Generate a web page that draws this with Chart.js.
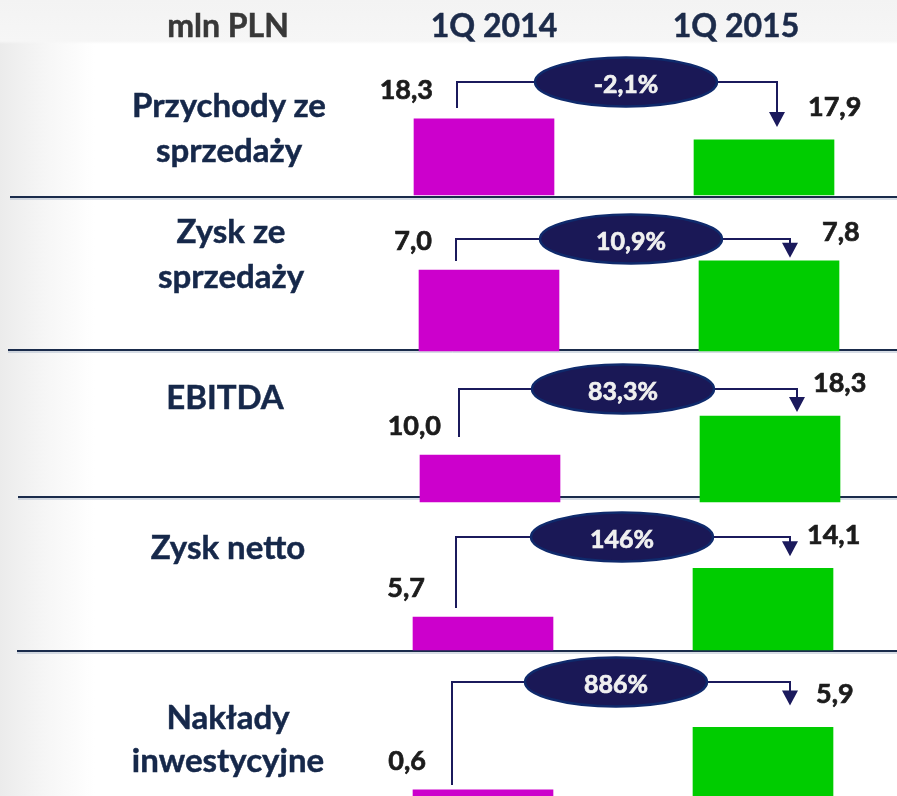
<!DOCTYPE html>
<html>
<head>
  <meta charset="utf-8">
  <title>Wyniki 1Q 2015 vs 1Q 2014</title>
  <style>
    html, body { margin: 0; padding: 0; overflow: hidden; }
    body {
      width: 897px; height: 796px; position: relative;
      background:
        linear-gradient(to bottom, #f3f3f3 0px, #f6f6f6 41px, rgba(255,255,255,0) 44px),
        linear-gradient(to right, #ebebeb 0px, #f6f6f6 45px, #ffffff 95px);
      font-family: Lato, "Open Sans", sans-serif;
      font-weight: 700;
    }
    #chart { position: absolute; left: 0; top: 0; }
    .txt {
      position: absolute; white-space: nowrap; transform: translateX(-50%); line-height: 1;
      -webkit-text-stroke: 0.5px currentColor;
    }
  </style>
</head>
<body>
  <canvas id="chart" width="897" height="796"></canvas>
  <script src="https://cdn.jsdelivr.net/npm/chart.js"></script>
  <script>
    // dane (mln PLN)
    const periods = ['1Q 2014', '1Q 2015'];
    const rowNames = [
      ['Przychody ze', 'sprzedaży'],
      ['Zysk ze', 'sprzedaży'],
      ['EBITDA'],
      ['Zysk netto'],
      ['Nakłady', 'inwestycyjne']
    ];
    const values2014 = [18.3, 7.0, 10.0, 5.7, 0.6];
    const values2015 = [17.9, 7.8, 18.3, 14.1, 5.9];
    const changes = ['-2,1%', '10,9%', '83,3%', '146%', '886%'];

    const MAGENTA = '#cc00cc';
    const GREEN = '#00cc00';
    const NAVY = '#1b1a5c';

    // uklad kazdego wiersza (piksele) - osobna os y na wiersz
    const rowLayout = [
      { base: 195, k: 52.5, from: 16.85, x0: 484, sep: 197, sepX: 10, linkY: 82, linkL: 457, linkR: 777, ellX: 626, gapL: 11, gapR: 13, lblL: 433, lblR: 808, dyR: 24, nameX: 229, nameY: [117, 162] },
      { base: 351, k: 11.57, from: 0, x0: 489, sep: 350, sepX: 8, linkY: 239, linkL: 456, linkR: 790, ellX: 631, gapL: 9, gapR: 3, lblL: 432, lblR: 822, dyR: 20, nameX: 231, nameY: [243, 288] },
      { base: 502, k: 4.7, from: 0, x0: 490, sep: 497, sepX: 18, linkY: 389, linkL: 459, linkR: 797, ellX: 623, gapL: 18, gapR: 4, lblL: 441, lblR: 813, dyR: 24, nameX: 225, nameY: [409] },
      { base: 650, k: 5.79, from: 0, x0: 483, sep: 651, sepX: 17, linkY: 537, linkL: 456, linkR: 790, ellX: 622, gapL: 9, gapR: 12, lblL: 425, lblR: 807, dyR: 24, nameX: 228, nameY: [559] },
      { base: 797, k: 11.8, from: 0, x0: 483, sep: null, sepX: 0, linkY: 682, linkL: 452, linkR: 790, ellX: 616, gapL: 5, gapR: 22, lblL: 426, lblR: 816, dyR: 24, nameX: 228, nameY: [729, 772] }
    ];

    const W = 897, H = 796, STEP = 280;
    const fmt = v => v.toFixed(1).replace('.', ',');

    // naglowki i nazwy wierszy jako tekst HTML
    function addText(str, cx, baseline, size, color) {
      const d = document.createElement('div');
      d.className = 'txt';
      d.textContent = str;
      d.style.left = cx + 'px';
      d.style.top = (baseline - 0.888 * size) + 'px';
      d.style.fontSize = size + 'px';
      d.style.color = color;
      document.body.appendChild(d);
    }
    addText('mln PLN', 228, 37, 32, '#383838');
    addText(periods[0], 494, 37, 32, '#1c2b4a');
    addText(periods[1], 736, 37, 32, '#1c2b4a');
    rowNames.forEach((lines, r) => {
      lines.forEach((s, j) => addText(s, rowLayout[r].nameX, rowLayout[r].nameY[j], 33, '#16284a'));
    });

    const scales = {};
    const datasets = [];
    rowLayout.forEach((L, r) => {
      scales['x' + r] = { type: 'linear', display: false, offset: false, min: -L.x0 / STEP, max: (W - L.x0) / STEP };
      scales['y' + r] = { type: 'linear', display: false, min: L.from - (H - L.base) / L.k, max: L.from + L.base / L.k };
      datasets.push({
        label: rowNames[r].join(' '),
        data: [{ x: 0, y: values2014[r] }, { x: 1, y: values2015[r] }],
        backgroundColor: [MAGENTA, GREEN],
        barThickness: 140,
        base: L.from,
        grouped: false,
        xAxisID: 'x' + r,
        yAxisID: 'y' + r
      });
    });

    function boldText(ctx, str, x, y) {
      ctx.fillText(str, x, y);
      ctx.lineWidth = 0.7;
      ctx.strokeStyle = ctx.fillStyle;
      ctx.strokeText(str, x, y);
    }

    const decor = {
      id: 'decor',
      beforeDatasetsDraw(chart) {
        const ctx = chart.ctx;
        ctx.save();
        rowLayout.forEach(L => {
          if (L.sep === null) return;
          ctx.strokeStyle = '#aebacb';
          ctx.lineWidth = 1;
          ctx.beginPath(); ctx.moveTo(L.sepX, L.sep + 2); ctx.lineTo(W, L.sep + 2); ctx.stroke();
          ctx.strokeStyle = '#1a2b4b';
          ctx.lineWidth = 2;
          ctx.beginPath(); ctx.moveTo(L.sepX, L.sep); ctx.lineTo(W, L.sep); ctx.stroke();
        });
        ctx.restore();
      },
      afterDatasetsDraw(chart) {
        const ctx = chart.ctx;
        ctx.save();
        rowLayout.forEach((L, r) => {
          const bars = chart.getDatasetMeta(r).data;
          const topA = bars[0].y, topB = bars[1].y;
          const tipY = topB - L.gapR;

          // laczenie ze strzalka
          ctx.strokeStyle = NAVY;
          ctx.lineWidth = 2;
          ctx.beginPath();
          ctx.moveTo(L.linkL, topA - L.gapL);
          ctx.lineTo(L.linkL, L.linkY);
          ctx.lineTo(L.linkR, L.linkY);
          ctx.lineTo(L.linkR, tipY - 12);
          ctx.stroke();
          ctx.fillStyle = NAVY;
          ctx.beginPath();
          ctx.moveTo(L.linkR - 8, tipY - 15);
          ctx.lineTo(L.linkR + 8, tipY - 15);
          ctx.lineTo(L.linkR, tipY);
          ctx.closePath();
          ctx.fill();

          // elipsa z dynamika
          ctx.beginPath();
          ctx.ellipse(L.ellX, L.linkY, 91, 24.5, 0, 0, Math.PI * 2);
          ctx.fillStyle = '#1a1856';
          ctx.fill();
          ctx.strokeStyle = '#0f2a6c';
          ctx.lineWidth = 2.5;
          ctx.stroke();
          ctx.fillStyle = '#f0f0f0';
          ctx.font = 'bold 25px Lato, sans-serif';
          ctx.textAlign = 'center';
          ctx.textBaseline = 'alphabetic';
          boldText(ctx, changes[r], L.ellX, L.linkY + 11);

          // wartosci
          ctx.fillStyle = '#1c1c1c';
          ctx.font = 'bold 27px Lato, sans-serif';
          ctx.textAlign = 'right';
          boldText(ctx, fmt(values2014[r]), L.lblL, topA - 20);
          ctx.textAlign = 'left';
          boldText(ctx, fmt(values2015[r]), L.lblR, topB - L.dyR);
        });
        ctx.restore();
      }
    };

    new Chart(document.getElementById('chart'), {
      type: 'bar',
      data: { datasets: datasets },
      options: {
        responsive: false,
        animation: false,
        events: [],
        layout: { padding: 0 },
        scales: scales,
        plugins: { legend: { display: false }, tooltip: { enabled: false } }
      },
      plugins: [decor]
    });
  </script>
</body>
</html>
